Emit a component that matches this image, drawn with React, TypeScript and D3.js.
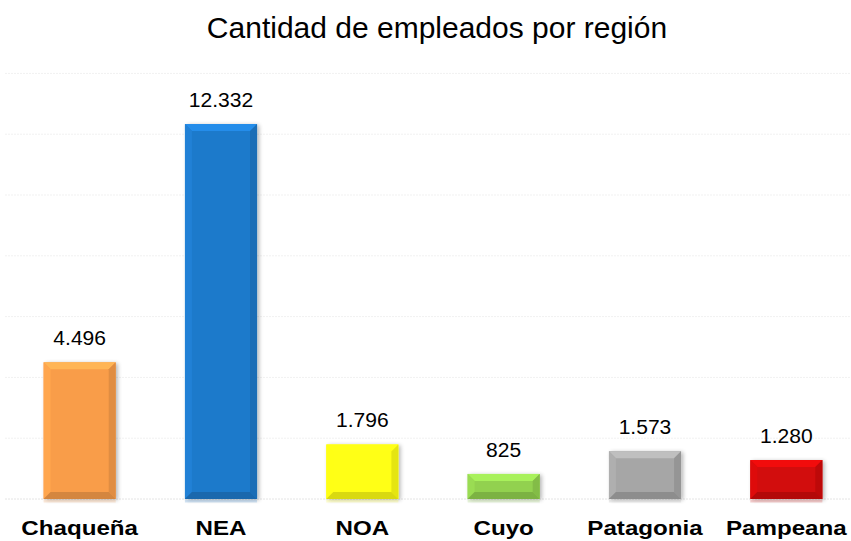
import React from "react";
import * as d3 from "d3";

const categories = ["Chaqueña", "NEA", "NOA", "Cuyo", "Patagonia", "Pampeana"];
const values = [4496, 12332, 1796, 825, 1573, 1280];
const valueLabels = ["4.496", "12.332", "1.796", "825", "1.573", "1.280"];
const barColors = ["#F99D4A", "#1F7ACB", "#FFFF14", "#92D14F", "#A6A6A6", "#D20A0A"];
const gridTicks = [0, 2000, 4000, 6000, 8000, 10000, 12000, 14000];
const title = "Cantidad de empleados por región";

const W = 851;
const H = 541;

export default function App() {
  const x = d3.scaleBand<string>().domain(categories).range([9, 857]).paddingInner(0.49).paddingOuter(0.245);
  const y = d3.scaleLinear().domain([0, 14000]).range([499, 73.4]);
  const bw = x.bandwidth();
  const bev = 7;

  return (
    <svg width={W} height={H} style={{ position: "absolute", left: 0, top: 0, background: "#fff" }} fontFamily="Arial, 'Liberation Sans', sans-serif">
      <defs>
        <filter id="sh" x="-20%" y="-20%" width="140%" height="140%">
          <feGaussianBlur in="SourceAlpha" stdDeviation="2" />
          <feOffset dx="2" dy="1" result="b" />
          <feComponentTransfer><feFuncA type="linear" slope="0.3" /></feComponentTransfer>
          <feMerge><feMergeNode /><feMergeNode in="SourceGraphic" /></feMerge>
        </filter>
      </defs>
      <text x={437} y={38} textAnchor="middle" fontSize={30} fill="#000">{title}</text>
      {gridTicks.map((t) => (
        <line key={t} x1={5} x2={851} y1={y(t)} y2={y(t)} stroke={t === 0 ? "#e4e4e4" : "#f1f1f1"} strokeWidth={1} strokeDasharray="2,1" />
      ))}
      {categories.map((c, i) => {
        const x0 = x(c)!;
        const y0 = y(values[i]);
        const x1 = x0 + bw;
        const y1 = y(0);
        const base = d3.color(barColors[i])!;
        const light = d3.color(barColors[i])!.brighter(0.4).formatHex();
        const lighter = d3.color(barColors[i])!.brighter(0.15).formatHex();
        const dark = d3.color(barColors[i])!.darker(0.3).formatHex();
        const darker = d3.color(barColors[i])!.darker(0.45).formatHex();
        const b = Math.min(bev, (y1 - y0) / 2);
        return (
          <g key={c}>
            <g filter="url(#sh)">
              <rect x={x0} y={y0} width={bw} height={y1 - y0} fill={base.formatHex()} />
            </g>
            <polygon points={`${x0},${y0} ${x1},${y0} ${x1 - b},${y0 + b} ${x0 + b},${y0 + b}`} fill={light} />
            <polygon points={`${x0},${y0} ${x0 + b},${y0 + b} ${x0 + b},${y1 - b} ${x0},${y1}`} fill={lighter} />
            <polygon points={`${x1},${y0} ${x1},${y1} ${x1 - b},${y1 - b} ${x1 - b},${y0 + b}`} fill={dark} />
            <polygon points={`${x0},${y1} ${x1},${y1} ${x1 - b},${y1 - b} ${x0 + b},${y1 - b}`} fill={darker} />
            <rect x={x0} y={y1 + 0.5} width={bw} height={3} fill={base.formatHex()} opacity={0.2} />
            <text x={x0 + bw / 2} y={y0 - 17} textAnchor="middle" fontSize={19.5} fill="#000" transform={`translate(${x0 + bw / 2},0) scale(1.08,1) translate(${-(x0 + bw / 2)},0)`}>
              {valueLabels[i]}
            </text>
            <text x={x0 + bw / 2} y={535.5} textAnchor="middle" fontSize={21} fontWeight="bold" fill="#000" transform={`translate(${x0 + bw / 2},0) scale(1.15,1) translate(${-(x0 + bw / 2)},0)`}>
              {c}
            </text>
          </g>
        );
      })}
    </svg>
  );
}
